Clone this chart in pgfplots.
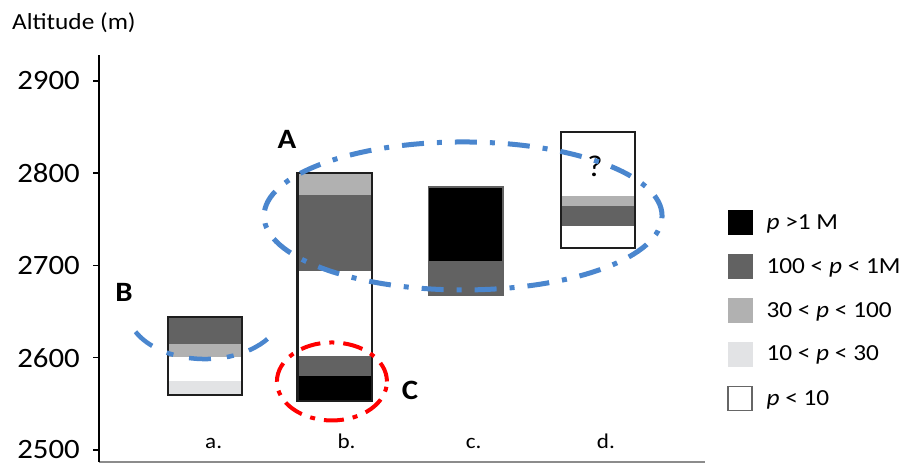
\documentclass[border=0pt]{standalone}
\usepackage{fontspec}
\setmainfont{Carlito}[FakeStretch=1.1]
\usepackage{pgfplots}
\pgfplotsset{compat=1.18}

\definecolor{gdark}{RGB}{98,98,98}
\definecolor{glight}{RGB}{177,177,177}
\definecolor{gvlight}{RGB}{226,227,229}
\definecolor{ablue}{RGB}{74,134,206}
\definecolor{axgray}{RGB}{140,140,140}
\definecolor{edge}{RGB}{30,30,30}

\pgfplotsset{
  seg/.style={fill=#1, draw=none, forget plot},
  box/.style={draw=edge, line width=2.2pt, forget plot},
}

\begin{document}
\begin{tikzpicture}
\begin{axis}[
  scale only axis,
  width=606pt, height=407pt,
  xmin=0.191, xmax=4.817,
  ymin=2487, ymax=2928.2,
  axis x line*=bottom, axis y line*=left,
  x axis line style={axgray, line width=1.3pt, -},
  y axis line style={black, line width=1.8pt, -},
  xtick={1,2.01,2.99,3.99},
  xticklabels={a.,b.,c.,d.},
  xtick style={draw=none},
  xticklabel style={anchor=base west, inner sep=0pt, yshift=19.3pt,
    font=\fontsize{21}{21}\selectfont},
  ytick={2500,2600,2700,2800,2900},
  ytick style={black, line width=1.5pt},
  major tick length=6pt,
  tick align=outside,
  /pgf/number format/assume math mode=true,
  /pgf/number format/1000 sep={},
  yticklabel style={font=\fontsize{28}{28}\selectfont, inner sep=0pt, anchor=east, xshift=-13pt},
  clip=false,
  legend image code/.code={\draw[#1] (0pt,-12pt) rectangle (24pt,12pt);},
  legend style={at={(axis cs:4.985,2760)}, anchor=north west, draw=none, fill=none,
    inner sep=0pt, row sep=19.5pt, column sep=14pt,
    font=\fontsize{23}{23}\selectfont,
    nodes={inner sep=0pt}},
  legend cell align=left,
]
% bar a.
\addplot[seg=gvlight] coordinates {(0.716,2560) (1.284,2560) (1.284,2575) (0.716,2575)} -- cycle;
\addplot[seg=white]   coordinates {(0.716,2575) (1.284,2575) (1.284,2601) (0.716,2601)} -- cycle;
\addplot[seg=glight]  coordinates {(0.716,2601) (1.284,2601) (1.284,2615) (0.716,2615)} -- cycle;
\addplot[seg=gdark]   coordinates {(0.716,2615) (1.284,2615) (1.284,2644) (0.716,2644)} -- cycle;
\addplot[box] coordinates {(0.716,2560) (1.284,2560) (1.284,2644) (0.716,2644)} -- cycle;
% bar b.
\addplot[seg=black]  coordinates {(1.706,2553) (2.274,2553) (2.274,2580) (1.706,2580)} -- cycle;
\addplot[seg=gdark]  coordinates {(1.706,2580) (2.274,2580) (2.274,2602) (1.706,2602)} -- cycle;
\addplot[seg=white]  coordinates {(1.706,2602) (2.274,2602) (2.274,2694) (1.706,2694)} -- cycle;
\addplot[seg=gdark]  coordinates {(1.706,2694) (2.274,2694) (2.274,2776) (1.706,2776)} -- cycle;
\addplot[seg=glight] coordinates {(1.706,2776) (2.274,2776) (2.274,2800) (1.706,2800)} -- cycle;
\addplot[box] coordinates {(1.706,2553) (2.274,2553) (2.274,2800) (1.706,2800)} -- cycle;
% bar c.
\addplot[seg=gdark] coordinates {(2.706,2668) (3.274,2668) (3.274,2705) (2.706,2705)} -- cycle;
\addplot[seg=black] coordinates {(2.706,2705) (3.274,2705) (3.274,2785) (2.706,2785)} -- cycle;
\addplot[draw=edge!70, line width=1.6pt, forget plot] coordinates {(2.706,2668) (3.274,2668) (3.274,2785) (2.706,2785)} -- cycle;
% bar d.
\addplot[seg=white]  coordinates {(3.716,2719) (4.284,2719) (4.284,2743) (3.716,2743)} -- cycle;
\addplot[seg=gdark]  coordinates {(3.716,2743) (4.284,2743) (4.284,2764) (3.716,2764)} -- cycle;
\addplot[seg=glight] coordinates {(3.716,2764) (4.284,2764) (4.284,2775) (3.716,2775)} -- cycle;
\addplot[seg=white]  coordinates {(3.716,2775) (4.284,2775) (4.284,2845) (3.716,2845)} -- cycle;
\addplot[box] coordinates {(3.716,2719) (4.284,2719) (4.284,2845) (3.716,2845)} -- cycle;

% legend
\addlegendimage{fill=black, draw=black}
\addlegendentry{\textit{p} >1 M}
\addlegendimage{fill=gdark, draw=gdark}
\addlegendentry{100 < \textit{p} < 1M}
\addlegendimage{fill=glight, draw=glight}
\addlegendentry{30 < \textit{p} < 100}
\addlegendimage{fill=gvlight, draw=gvlight}
\addlegendentry{10 < \textit{p} < 30}
\addlegendimage{fill=white, draw=black!60, line width=1.3pt}
\addlegendentry{\textit{p} < 10}

% annotations
\node[font=\fontsize{30}{30}\selectfont] at (axis cs:3.977,2807.9) {?};
\draw[ablue, line width=5pt, dash pattern=on 22pt off 13pt on 5pt off 13pt]
  (axis cs:2.97,2753.7) ellipse [x radius=199pt, y radius=74pt];
\draw[ablue, line width=4.5pt, dash pattern=on 22pt off 16pt on 7pt off 16pt]
  (axis cs:1,2652.8) ++(207:78pt and 50pt) arc[start angle=207, end angle=333, x radius=78pt, y radius=50pt];
\draw[red, line width=4pt, dash pattern=on 20pt off 9pt on 5pt off 9pt]
  (axis cs:1.969,2574.3) ellipse [x radius=55pt, y radius=39pt];
\node[font=\bfseries\fontsize{28}{28}\selectfont] at (axis cs:1.626,2837.1) {A};
\node[font=\bfseries\fontsize{28}{28}\selectfont] at (axis cs:0.382,2671.3) {B};
\node[font=\bfseries\fontsize{28}{28}\selectfont] at (axis cs:2.565,2565.0) {C};
\node[anchor=base west, inner sep=0pt, font=\fontsize{23}{23}\selectfont] at (axis cs:-0.4733,2955.3) {Altitude (m)};

\coordinate (BL) at (axis cs:-0.5649,2485.91);
\coordinate (TR) at (axis cs:6.3130,2987.80);
\end{axis}
\pgfresetboundingbox
\path[use as bounding box] (BL) rectangle (TR);
\end{tikzpicture}
\end{document}
